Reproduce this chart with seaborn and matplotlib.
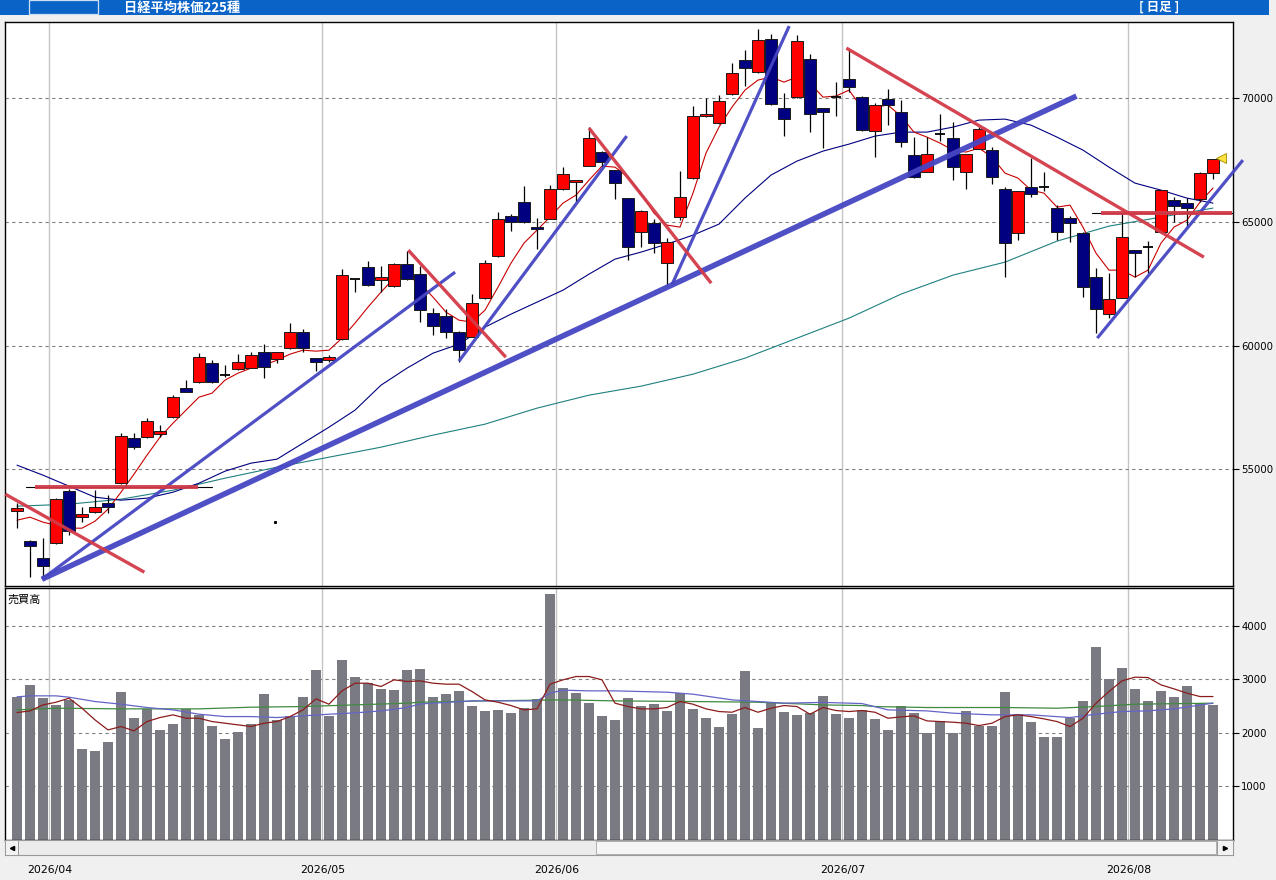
import numpy as np
import pandas as pd
import matplotlib
matplotlib.use("Agg")
import matplotlib.pyplot as plt
from matplotlib.patches import Rectangle
import seaborn as sns

# ---------------- data ----------------
opens = [53314, 52101, 51442, 52008, 54123, 53084, 53261, 53638, 54434, 56254,
         56294, 56440, 57103, 58276, 58518, 59286, 58800, 59043, 59108, 59755,
         59448, 59892, 60539, 59488, 59419, 60256, 62700, 63191, 62641, 62399,
         63288, 62884, 61307, 61210, 60563, 60361, 61914, 63624, 65229, 65807,
         64784, 65132, 66345, 66628, 67263, 67841, 67101, 65957, 64606, 64970,
         63329, 65189, 66765, 69272, 68989, 70161, 71536, 71051, 72385, 69595,
         70064, 71577, 69595, 70060, 70768, 70040, 68666, 69971, 69434, 67707,
         67032, 68550, 68383, 67008, 67950, 67909, 66321, 64542, 66426, 66410,
         65577, 65148, 64566, 62763, 61267, 61938, 63854, 64010, 64582, 65888,
         65754, 65916, 66967]
highs = [53626, 52142, 52211, 53840, 54204, 53464, 54163, 53961, 56456, 56456,
         57062, 56791, 58004, 58611, 59690, 59419, 59217, 59650, 59755, 60066,
         59740, 60927, 60660, 59500, 59621, 63098, 62710, 63422, 63220, 63353,
         63826, 63232, 61509, 61469, 60580, 62088, 63462, 65391, 65334, 66442,
         65160, 66482, 67210, 66720, 68827, 67860, 67120, 65980, 65484, 65108,
         64340, 67060, 69688, 70000, 70121, 71415, 71952, 72789, 72587, 70202,
         72559, 71779, 69610, 70659, 71952, 70093, 69798, 70364, 69931, 68423,
         68447, 69353, 69054, 67760, 68852, 68043, 66426, 66250, 67574, 67020,
         65686, 65241, 64580, 63127, 62924, 65350, 63870, 64243, 66300, 66022,
         65957, 67032, 67558]
lows = [52615, 50658, 50553, 51980, 52344, 52882, 53240, 53221, 54420, 55821,
        56280, 56294, 57090, 58120, 58477, 58500, 58720, 59030, 59100, 58679,
        59286, 59880, 59755, 58987, 59326, 60240, 62180, 62420, 62180, 62358,
        62670, 60968, 60430, 60297, 59350, 60340, 61900, 63596, 64635, 64970,
        63919, 65120, 66292, 65819, 67250, 67234, 65916, 63462, 64000, 63757,
        62451, 65079, 66750, 69260, 68980, 70150, 70509, 71011, 69740, 68488,
        70000, 68649, 68002, 69296, 70267, 68690, 67639, 68920, 68019, 66800,
        67020, 68273, 66697, 66321, 67940, 66523, 62763, 64271, 66022, 66240,
        64271, 64178, 61979, 60499, 61105, 61920, 62787, 62924, 64570, 64986,
        64808, 65819, 66749]
closes = [53423, 51927, 51103, 53787, 52518, 53193, 53464, 53464, 56347, 55914,
          56941, 56537, 57911, 58138, 59528, 58518, 58813, 59350, 59609, 59148,
          59731, 60539, 59916, 59326, 59528, 62844, 62694, 62439, 62763, 63288,
          62682, 61429, 60806, 60563, 59823, 61712, 63329, 65132, 64986, 64986,
          64703, 66321, 66939, 66709, 68383, 67436, 66563, 64000, 65443, 64162,
          64202, 65997, 69296, 69377, 69891, 71011, 71213, 72345, 69757, 69151,
          72328, 69353, 69434, 70040, 70444, 68706, 69717, 69717, 68253, 66818,
          67736, 68544, 67234, 67748, 68746, 66830, 64137, 66240, 66118, 66402,
          64606, 64946, 62358, 61469, 61873, 64380, 63757, 64000, 66292, 65658,
          65577, 66967, 67534]
volume = [2673, 2897, 2654, 2523, 2617, 1701, 1670, 1838, 2766, 2281,
          2449, 2056, 2175, 2449, 2337, 2131, 1888, 2025, 2168, 2729,
          2243, 2318, 2673, 3178, 2324, 3365, 3047, 2928, 2823, 2804,
          3178, 3196, 2673, 2729, 2785, 2505, 2411, 2430, 2374, 2461,
          2636, 4598, 2841, 2748, 2561, 2318, 2243, 2654, 2505, 2542,
          2411, 2748, 2449, 2281, 2112, 2355, 3159, 2094, 2561, 2393,
          2337, 2374, 2692, 2355, 2281, 2424, 2262, 2056, 2505, 2374,
          2000, 2224, 1994, 2411, 2137, 2131, 2766, 2355, 2206, 1925,
          1925, 2281, 2598, 3608, 3009, 3215, 2823, 2598, 2785, 2673,
          2879, 2561, 2523]

# price moving averages
ma_short = [52950, 53072, 52870, 52748, 52627, 52627, 52910, 53395, 54082, 54810,
            55578, 56306, 56872, 57398, 57923, 58085, 58611, 58894, 59096, 59217,
            59419, 59662, 59823, 59783, 59823, 60309, 60915, 61562, 62168, 62734,
            62815, 62532, 61966, 61360, 61036, 60956, 61441, 62371, 63341, 64150,
            64675, 65201, 65767, 66090, 66697, 67263, 67222, 66818, 66171, 65362,
            64877, 64796, 66171, 67788, 68839, 69648, 70335, 70740, 70861, 70659,
            70861, 70618, 70052, 70093, 70335, 69608, 69648, 69729, 69284, 68637,
            68435, 68193, 67909, 67829, 67990, 67626, 66980, 66777, 66292, 66171,
            65605, 65686, 64796, 63745, 63058, 63058, 62775, 63058, 64150, 64796,
            65079, 65807, 66373]
ma_mid_idx = list(range(0, 93, 2))
ma_mid = [55174, 54770, 54325, 53880, 53759, 53840, 54082, 54446, 54931, 55255,
          55417, 56064, 56710, 57398, 58408, 59096, 59702, 60066, 60753, 61279,
          61764, 62249, 62896, 63503, 63786, 64109, 64473, 64918, 65969, 66899,
          67465, 67869, 68152, 68476, 68637, 68637, 68839, 69122, 69163, 68920,
          68435, 67909, 67222, 66575, 66292, 65969, 65767]
ma_long_idx = list(range(0, 93, 4))
ma_long = [53516, 53597, 53799, 54163, 54648, 55093, 55497, 55902, 56387, 56832,
           57479, 58004, 58368, 58853, 59500, 60309, 61117, 62088, 62856, 63381,
           64230, 64837, 65201, 65565]

# volume moving averages
vma_short = [2380, 2411, 2523, 2573, 2648, 2461, 2243, 2056, 2119, 2038,
             2212, 2287, 2337, 2274, 2274, 2212, 2181, 2150, 2119, 2181,
             2212, 2305, 2430, 2636, 2536, 2785, 2928, 2928, 2866, 2991,
             2960, 2972, 2928, 2910, 2910, 2773, 2617, 2573, 2511, 2430,
             2449, 2910, 2991, 3053, 3053, 2991, 2555, 2492, 2449, 2449,
             2474, 2586, 2536, 2449, 2399, 2386, 2474, 2386, 2461, 2511,
             2492, 2349, 2474, 2418, 2399, 2418, 2386, 2274, 2299, 2318,
             2224, 2212, 2200, 2181, 2137, 2181, 2305, 2337, 2305, 2262,
             2212, 2119, 2274, 2555, 2773, 2972, 3041, 3034, 2897, 2822,
             2742, 2679, 2679]
vma_mid_idx = [0, 1, 3, 4, 6, 8, 10, 12, 14, 16, 18, 20, 22, 24, 26, 28, 30, 31, 35, 40,
               41, 42, 44, 46, 50, 52, 55, 57, 59, 62, 65, 67, 70, 72, 75, 78, 81, 83, 85, 87,
               89, 92]
vma_mid = [2673, 2692, 2692, 2667, 2586, 2536, 2474, 2430, 2349, 2305,
           2305, 2287, 2318, 2349, 2374, 2411, 2474, 2540, 2598, 2598,
           2742, 2798, 2785, 2785, 2760, 2723, 2617, 2586, 2555, 2570,
           2548, 2430, 2411, 2368, 2337, 2337, 2287, 2349, 2399, 2411,
           2449, 2555]
vma_long_idx = [0, 3, 8, 14, 18, 22, 26, 30, 31, 36, 42, 46, 52, 57, 62, 65, 66, 70, 76, 80,
                83, 86, 92]
vma_long = [2430, 2461, 2449, 2449, 2480, 2492, 2523, 2555, 2573, 2598,
            2617, 2598, 2586, 2573, 2523, 2511, 2492, 2474, 2474, 2461,
            2492, 2536, 2555]

# hand-drawn trend lines: (start index, start price, end index, end price)
trend_names = ["b_main", "b1", "b2", "b3", "b4", "r1", "r_h1", "r2", "r3", "r4", "r_h2"]
trend_x0 = [1.92, 1.92, 34.0, 50.4, 83.1, -0.9, 1.4, 30.1, 44.0, 63.8, 83.4]
trend_y0 = [50565, 50565, 59379, 62492, 60309, 54002, 54285, 63866, 68799, 72033, 65362]
trend_x1 = [81.5, 33.7, 46.9, 59.4, 94.3, 9.8, 13.9, 37.6, 53.4, 91.3, 93.5]
trend_y1 = [70093, 62977, 68476, 72923, 67505, 50848, 54285, 59540, 62532, 63583, 65362]

month_labels = ["2026/04", "2026/05", "2026/06", "2026/07", "2026/08"]
month_first_idx = [3, 24, 42, 64, 86]

price_ticks = [55000, 60000, 65000, 70000]
volume_ticks = [1000, 2000, 3000, 4000]

title_text = "日経平均株価225種"
period_text = "[ 日足 ]"
volume_label = "売買高"

# ---------------- figure ----------------
sns.set_style("white")
plt.rcParams['font.family'] = ['DejaVu Sans', 'Noto Sans CJK JP']
plt.rcParams['axes.unicode_minus'] = False
CJK = ['Noto Sans CJK JP', 'DejaVu Sans']

W, H = 1276, 880
fig = plt.figure(figsize=(W / 100, H / 100), dpi=100, facecolor='#f0f0f0')


def fx(px):
    return px / W


def fy(py):
    return 1 - py / H


ax = fig.add_axes([fx(5), fy(586), fx(1233) - fx(5), (586 - 21.7) / H])
axv = fig.add_axes([fx(5), fy(840), fx(1233) - fx(5), (840 - 588) / H])
axs = fig.add_axes([fx(5), fy(855), fx(1233) - fx(5), 15 / H])

n = len(closes)
idx = np.arange(n)
XL = (-0.923, 93.54)
month_pos = [m - 0.5 for m in month_first_idx]

# title bar
fig.add_artist(Rectangle((0, fy(15)), fx(1269), 15 / H, transform=fig.transFigure,
                         facecolor='#0a64c8', edgecolor='none', zorder=0))
fig.add_artist(Rectangle((fx(29), fy(14)), fx(98) - fx(29), 13.5 / H, transform=fig.transFigure,
                         facecolor='none', edgecolor='#cfe0f5', lw=0.9, zorder=1))
fig.text(fx(124), fy(7.5), title_text, color='white', fontsize=9.5, fontweight='bold',
         family=CJK, va='center', ha='left')
fig.text(fx(1159), fy(7.5), period_text, color='white', fontsize=9, fontweight='bold',
         family=CJK, va='center', ha='center')

# ---------------- price panel ----------------
ax.set_facecolor('white')
ax.set_axisbelow(True)
df = pd.DataFrame({'i': idx, 'o': opens, 'h': highs, 'l': lows, 'c': closes})
doji = (df.c - df.o).abs() < 50
body = df[~doji]
dj = df[doji]

sns.lineplot(x=ma_long_idx, y=ma_long, ax=ax, color='#1f8080', lw=0.8, zorder=2)
sns.lineplot(x=ma_mid_idx, y=ma_mid, ax=ax, color='#000080', lw=0.8, zorder=2)
sns.lineplot(x=idx, y=ma_short, ax=ax, color='#c80000', lw=0.8, zorder=2)

ax.vlines(df.i, df.l, df.h, color='black', lw=0.9, zorder=3)
ax.bar(body.i, (body.c - body.o).abs(), bottom=np.minimum(body.o, body.c), width=0.85,
       color=np.where(body.c > body.o, '#ff0000', '#000080'), edgecolor='#1a1a1a',
       linewidth=0.7, zorder=4)
ax.hlines(dj.c, dj.i - 0.42, dj.i + 0.42, color='black', lw=1.3, zorder=4)

trend_style = {
    "b_main": ('#4646c3', 4.0), "b1": ('#4646c3', 2.3), "b2": ('#4646c3', 2.3),
    "b3": ('#4646c3', 2.3), "b4": ('#4646c3', 2.3), "r1": ('#d23a48', 2.4),
    "r_h1": ('#d23a48', 2.8), "r2": ('#d23a48', 2.4), "r3": ('#d23a48', 2.4),
    "r4": ('#d23a48', 2.4), "r_h2": ('#d23a48', 2.8),
}
# thin black guide lines under horizontal red lines
for name, x0, y0, x1, y1 in zip(trend_names, trend_x0, trend_y0, trend_x1, trend_y1):
    if name.startswith("r_h"):
        ax.plot([x0 - 0.7, x1 + 1.1], [y0, y1], color='black', lw=0.8, zorder=5)
for name, x0, y0, x1, y1 in zip(trend_names, trend_x0, trend_y0, trend_x1, trend_y1):
    col, w = trend_style[name]
    ax.plot([x0, x1], [y0, y1], color=col, lw=w, solid_capstyle='butt', zorder=6,
            alpha=0.95, clip_on=False)

# last-price marker and stray dot
ax.plot([n - 1 + 0.62], [closes[-1] + 52], marker='<', ms=7, color='#ffe23c',
        mec='#a08a00', mew=0.6, zorder=7, clip_on=False)
ax.plot([19.85], [52880], marker='s', ms=1.2, color='black', zorder=7)

ax.set_xlim(*XL)
ax.set_ylim(50290, 73100)
ax.set_xticks(month_pos)
ax.set_xticklabels([])
ax.tick_params(axis='x', length=0)
ax.set_yticks(price_ticks)
ax.set_yticklabels([str(t) for t in price_ticks])
ax.yaxis.tick_right()
ax.tick_params(axis='y', direction='out', length=4, width=0.8, pad=2, labelsize=7.3,
               colors='black')
ax.grid(axis='x', color='#c4c4c4', lw=1.0, ls='-')
ax.grid(axis='y', color='#808080', lw=0.8, ls=(0, (3, 3)))
ax.set_xlabel('')
ax.set_ylabel('')
for s in ax.spines.values():
    s.set_color('black')
    s.set_linewidth(1.0)

# ---------------- volume panel ----------------
axv.set_facecolor('white')
axv.set_axisbelow(True)
sns.barplot(x=idx, y=volume, native_scale=True, width=0.7, color='#7a7a83',
            saturation=1, linewidth=0, errorbar=None, ax=axv, zorder=2)
sns.lineplot(x=vma_long_idx, y=vma_long, ax=axv, color='#3f8a3f', lw=0.9, zorder=3)
sns.lineplot(x=vma_mid_idx, y=vma_mid, ax=axv, color='#6464c8', lw=0.9, zorder=3)
sns.lineplot(x=idx, y=vma_short, ax=axv, color='#8c1c1c', lw=0.9, zorder=3)
axv.set_xlim(*XL)
axv.set_ylim(0, 4706)
axv.set_xticks(month_pos)
axv.set_xticklabels([])
axv.tick_params(axis='x', length=0)
axv.set_yticks(volume_ticks)
axv.set_yticklabels([str(t) for t in volume_ticks])
axv.yaxis.tick_right()
axv.tick_params(axis='y', direction='out', length=4, width=0.8, pad=2, labelsize=7.3,
                colors='black')
axv.grid(axis='x', color='#c4c4c4', lw=1.0, ls='-')
axv.grid(axis='y', color='#808080', lw=0.8, ls=(0, (3, 3)))
axv.set_xlabel('')
axv.set_ylabel('')
for s in axv.spines.values():
    s.set_color('black')
    s.set_linewidth(1.0)
axv.text(0.002, 0.955, volume_label, transform=axv.transAxes, fontsize=8, family=CJK,
         ha='left', va='center', color='black')

# ---------------- scrollbar + date axis ----------------
axs.set_facecolor('#ececec')
axs.set_xlim(*XL)
axs.set_ylim(0, 1)
axs.set_yticks([])
axs.set_xticks(month_pos)
axs.set_xticklabels(month_labels, fontsize=7.8)
axs.tick_params(axis='x', direction='out', length=5, width=0.8, pad=2, colors='black')
for s in axs.spines.values():
    s.set_color('#9a9a9a')
    s.set_linewidth(0.8)
wpx = 1228.0
axs.add_patch(Rectangle(((596 - 5) / wpx, 0.06), (1216 - 596) / wpx, 0.88, transform=axs.transAxes,
                        facecolor='#f5f5f5', edgecolor='#b0b0b0', lw=0.7, zorder=2))
axs.add_patch(Rectangle((0, 0), 13 / wpx, 1, transform=axs.transAxes,
                        facecolor='#f2f2f2', edgecolor='#9a9a9a', lw=0.7, zorder=3))
axs.add_patch(Rectangle((1 - 16 / wpx, 0), 16 / wpx, 1, transform=axs.transAxes,
                        facecolor='#f2f2f2', edgecolor='#9a9a9a', lw=0.7, zorder=3))
axs.plot([6.5 / wpx], [0.5], marker='<', ms=3, color='black', transform=axs.transAxes, zorder=4)
axs.plot([1 - 8 / wpx], [0.5], marker='>', ms=3, color='black', transform=axs.transAxes, zorder=4)

fig.savefig('out.png', dpi=100, facecolor=fig.get_facecolor())
